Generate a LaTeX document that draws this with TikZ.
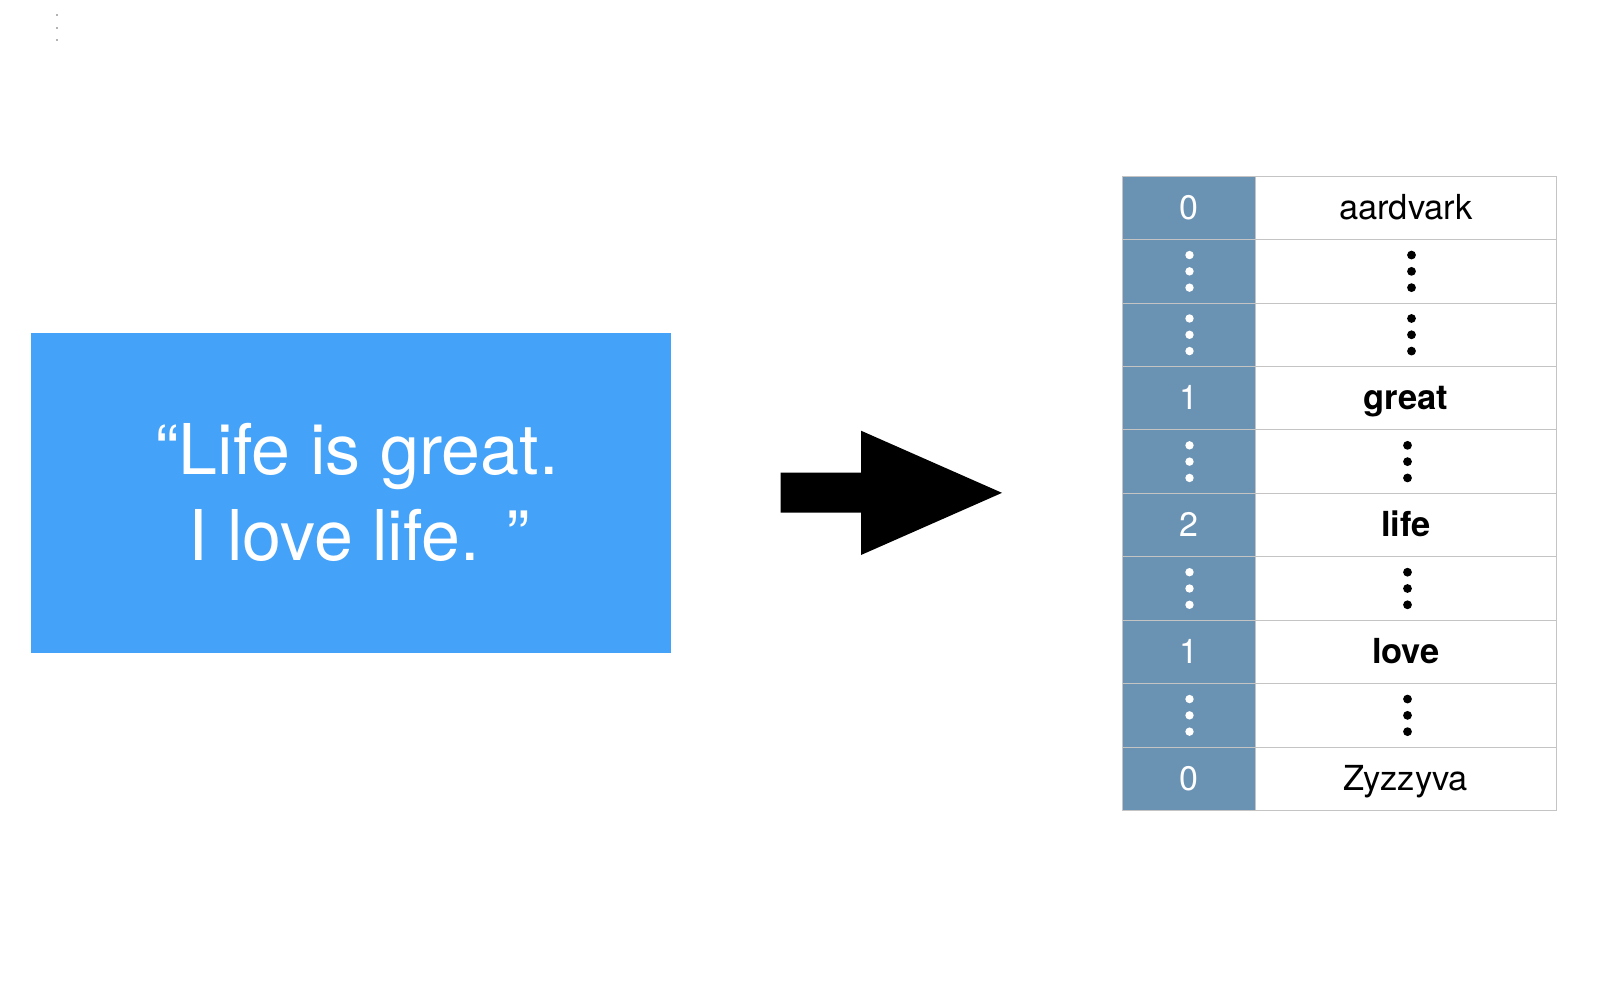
\documentclass[tikz,border=0pt]{standalone}
\usepackage{fontspec}
\setmainfont{TeX Gyre Heros}
\usetikzlibrary{calc}
\definecolor{quoteblue}{HTML}{44A2F8}
\definecolor{steel}{HTML}{6A92B3}
\definecolor{gridgray}{HTML}{C4C4C4}
\tikzset{
  quotetext/.style={text=white, font=\fontsize{70}{84}\selectfont, anchor=base, inner sep=0pt},
  idxcell/.style={fill=steel, draw=gridgray, line width=1pt, minimum width=133.8pt, minimum height=63.43pt,
    anchor=north west, inner sep=0pt, text=white, font=\fontsize{34}{36}\selectfont, text height=22.5pt, text depth=0pt},
  wordcell/.style={fill=white, draw=gridgray, line width=1pt, minimum width=300.2pt, minimum height=63.43pt,
    anchor=north west, inner sep=0pt, text=black, font=\fontsize{34.5}{36}\selectfont, text height=22.5pt, text depth=0pt},
  whitedot/.style={fill=white},
  blackdot/.style={fill=black},
  blockarrow/.style={fill=black}
}
\begin{document}
\begin{tikzpicture}[x=1pt,y=-1pt]
\useasboundingbox (0,0) rectangle (1610,988);
\fill[white] (0,0) rectangle (1610,988);
% tiny dots top-left
\foreach \yy in {15,28,40} \fill[gray!80!black] (57,\yy) circle (0.8);
% quote box
\node[fill=quoteblue, minimum width=639.7pt, minimum height=320.3pt, inner sep=0pt, anchor=north west] (quote) at (30.8,332.7) {};
\node[quotetext] (quoteA) at (357,474) {“Life is great.};
\node[quotetext] (quoteB) at (359,560) {I love life. ”};
% block arrow
\path[blockarrow] (780.7,472.7) -- (861,472.7) -- (861,430.7) -- (1002,492.85) -- (861,555) -- (861,512.7) -- (780.7,512.7) -- cycle;
% table
\foreach \i/\n/\w in {0/0/aardvark,1//,2//,3/1/\textbf{great},4//,5/2/\textbf{life},6//,7/1/\textbf{love},8//,9/0/Zyzzyva}{
  \node[idxcell] (idx\i) at (1121.5,{175.7+\i*63.43}) {\n};
  \node[wordcell] (word\i) at (1255.3,{175.7+\i*63.43}) {\w};
}
\foreach \i/\dx in {1/5.6,2/5.6,4/1.6,6/1.6,8/1.6}{
  \foreach \dy in {-16.3,0,16.3}{
    \fill[whitedot] ($(idx\i.center)+(0.6,\dy)$) circle (4.2);
    \fill[blackdot] ($(word\i.center)+(\dx,\dy)$) circle (4.4);
  }
}
\end{tikzpicture}
\end{document}
